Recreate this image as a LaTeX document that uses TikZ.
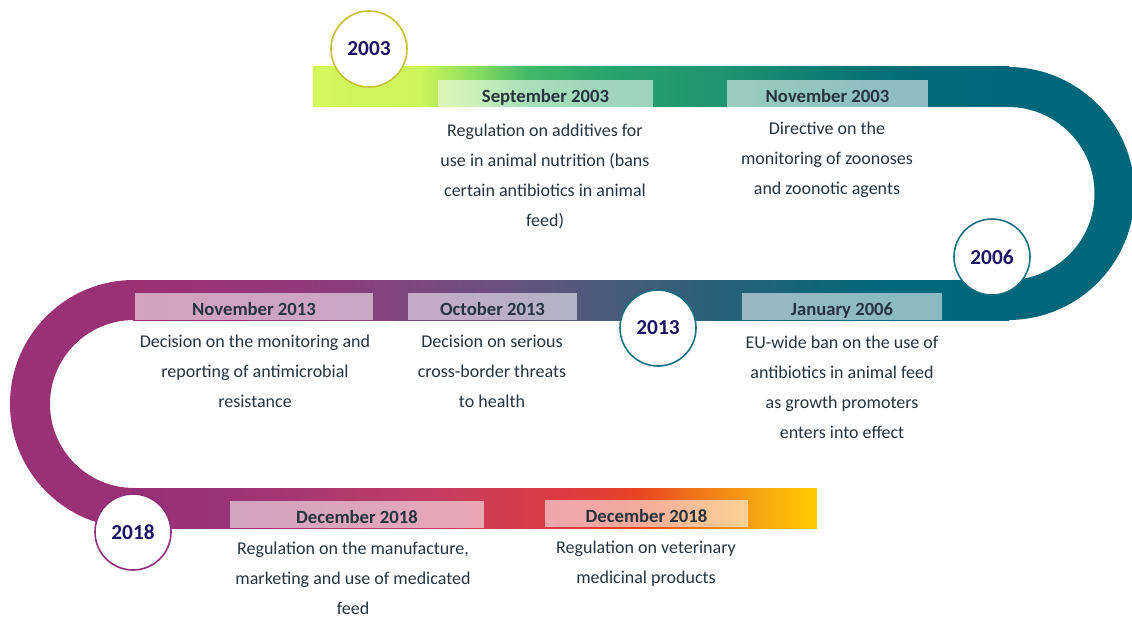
\documentclass[tikz,border=0pt]{standalone}
\usepackage{fontspec}
\setmainfont{Carlito}
\definecolor{yearblue}{HTML}{1B1464}
\definecolor{txtdark}{HTML}{26343F}
\definecolor{tealarc}{HTML}{00677B}
\definecolor{plumarc}{HTML}{9A3174}
\definecolor{ringlime}{HTML}{C4C22E}
\definecolor{ringteal}{HTML}{1A6F80}
\definecolor{ringplum}{HTML}{8E2F7A}
% band colours
\definecolor{tA}{HTML}{D4F75C}\definecolor{tB}{HTML}{CCF559}\definecolor{tC}{HTML}{8FE060}
\definecolor{tD}{HTML}{40B868}\definecolor{tE}{HTML}{2AA56C}\definecolor{tF}{HTML}{1E9470}
\definecolor{tG}{HTML}{0C7A74}\definecolor{tH}{HTML}{006A7A}
\definecolor{mA}{HTML}{9C3174}\definecolor{mB}{HTML}{93387C}\definecolor{mC}{HTML}{80457F}
\definecolor{mD}{HTML}{6A5080}\definecolor{mE}{HTML}{4C5B7C}\definecolor{mF}{HTML}{2E6079}
\definecolor{mG}{HTML}{14657A}\definecolor{mH}{HTML}{00687B}
\definecolor{lA}{HTML}{973076}\definecolor{lB}{HTML}{983478}\definecolor{lC}{HTML}{C03C66}
\definecolor{lD}{HTML}{D23C50}\definecolor{lE}{HTML}{E03C3A}\definecolor{lF}{HTML}{E84522}
\definecolor{lG}{HTML}{F07818}\definecolor{lH}{HTML}{F8A810}\definecolor{lI}{HTML}{FFCC00}
\pgfdeclarehorizontalshading{topband}{100bp}{%
  color(0bp)=(tA); color(25bp)=(tA); color(32.7bp)=(tB); color(36.3bp)=(tC);
  color(40.6bp)=(tD); color(45.6bp)=(tE); color(54.3bp)=(tF); color(62.2bp)=(tG);
  color(68.7bp)=(tH); color(75bp)=(tealarc); color(100bp)=(tealarc)}
\pgfdeclarehorizontalshading{midband}{100bp}{%
  color(0bp)=(mA); color(25bp)=(mA); color(34.5bp)=(mB); color(40.2bp)=(mC);
  color(45.9bp)=(mD); color(51.7bp)=(mE); color(57.4bp)=(mF); color(63.1bp)=(mG);
  color(68.8bp)=(mH); color(75bp)=(tealarc); color(100bp)=(tealarc)}
\pgfdeclarehorizontalshading{lowband}{100bp}{%
  color(0bp)=(lA); color(25bp)=(lA); color(31.3bp)=(lB); color(45.9bp)=(lC);
  color(51.8bp)=(lD); color(58.4bp)=(lE); color(62bp)=(lF); color(66.4bp)=(lG);
  color(71bp)=(lH); color(75bp)=(lI); color(100bp)=(lI)}
\begin{document}
\begin{tikzpicture}[x=0.75pt,y=-0.75pt,
    yearnode/.style={circle, draw, fill=white, line width=1.2pt, minimum size=76*0.75pt,
      inner sep=0pt, text=yearblue, font=\fontsize{16}{18}\selectfont\bfseries},
    datebox/.style={fill=white, fill opacity=0.55, text opacity=1, inner sep=0pt,
      minimum height=27*0.75pt, text height=14pt, text depth=0pt, text=txtdark,
      font=\fontsize{14}{15}\selectfont\bfseries},
    desc/.style={anchor=north, align=center, inner sep=0pt, text=txtdark,
      font=\fontsize{13.5}{22.5}\selectfont}]
  \useasboundingbox (0,0) rectangle (1132,617);
  % the winding band
  \shade[shading=topband] (313,67) rectangle (1009,107);
  \fill[tealarc] (1008,67) arc[start angle=-90, end angle=90, radius=126.5]
    -- (1008,280) arc[start angle=90, end angle=-90, radius=86.5] -- cycle;
  \shade[shading=midband] (133,280) rectangle (1009,320);
  \fill[plumarc] (134,280) arc[start angle=270, end angle=90, radius=124]
    -- (134,488) arc[start angle=90, end angle=270, radius=84] -- cycle;
  \shade[shading=lowband] (133,488) rectangle (817,528);
  % date labels
  \node[datebox, minimum width=215*0.75pt] (sep03) at (545.5,93.5) {September 2003};
  \node[datebox, minimum width=201*0.75pt] (nov03) at (827.5,93.5) {November 2003};
  \node[datebox, minimum width=238*0.75pt] (nov13) at (254,306) {November 2013};
  \node[datebox, minimum width=169*0.75pt] (oct13) at (492.5,306) {October 2013};
  \node[datebox, minimum width=200*0.75pt] (jan06) at (842,306.5) {January 2006};
  \node[datebox, minimum width=254*0.75pt] (dec18a) at (357,514) {December 2018};
  \node[datebox, minimum width=203*0.75pt] (dec18b) at (646.5,513) {December 2018};
  % descriptions
  \node[desc] (sep03txt) at (545,124) {Regulation on additives for\\use in animal nutrition (bans\\certain antibiotics in animal\\feed)};
  \node[desc] (nov03txt) at (827,122) {Directive on the\\monitoring of zoonoses\\and zoonotic agents};
  \node[desc] (nov13txt) at (255,335) {Decision on the monitoring and\\reporting of antimicrobial\\resistance};
  \node[desc] (oct13txt) at (492,335) {Decision on serious\\cross-border threats\\to health};
  \node[desc] (jan06txt) at (842,336) {EU-wide ban on the use of\\antibiotics in animal feed\\as growth promoters\\enters into effect};
  \node[desc] (dec18atxt) at (353,542) {Regulation on the manufacture,\\marketing and use of medicated\\feed};
  \node[desc] (dec18btxt) at (646,541) {Regulation on veterinary\\medicinal products};
  % years
  \node[yearnode, draw=ringlime] (y2003) at (369,49) {2003};
  \node[yearnode, draw=ringteal] (y2006) at (992,257) {2006};
  \node[yearnode, draw=ringteal] (y2013) at (658,328) {2013};
  \node[yearnode, draw=ringplum] (y2018) at (133,532) {2018};
\end{tikzpicture}
\end{document}
